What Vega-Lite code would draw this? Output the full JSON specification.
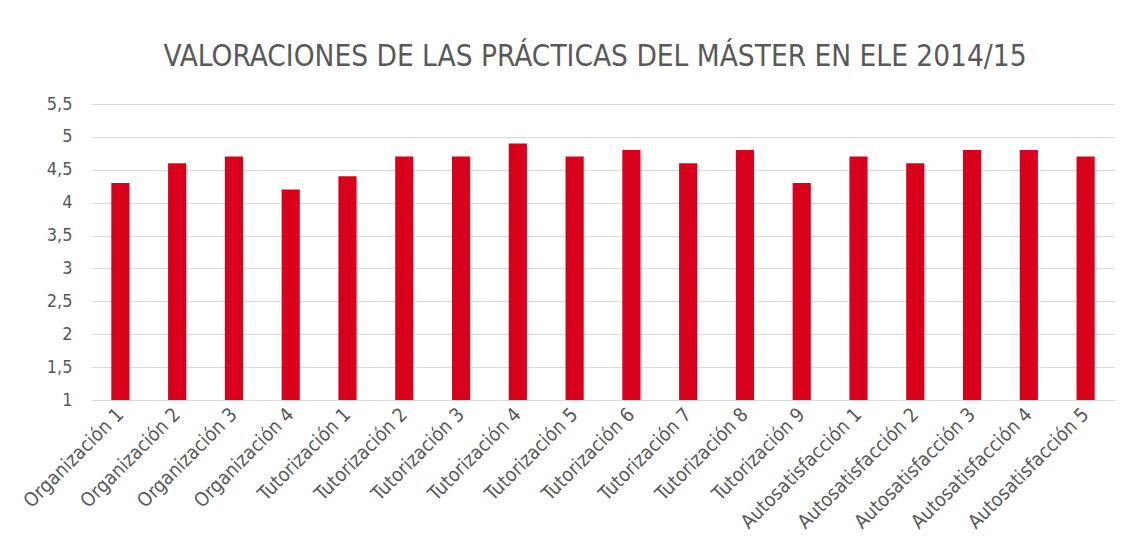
{
  "$schema": "https://vega.github.io/schema/vega-lite/v6.json",
  "autosize": "none",
  "width": 1022,
  "height": 296,
  "padding": {"left": 92, "top": 104, "right": 18, "bottom": 154},
  "background": "white",
  "title": {
    "text": "VALORACIONES DE LAS PRÁCTICAS DEL MÁSTER EN ELE 2014/15",
    "font": "DejaVu Sans Condensed",
    "fontSize": 29.5,
    "fontWeight": "normal",
    "color": "#595959",
    "anchor": "middle",
    "baseline": "alphabetic",
    "offset": 0,
    "dx": -8
  },
  "data": {
    "values": [
      {"item": "Organización 1", "valor": 4.3},
      {"item": "Organización 2", "valor": 4.6},
      {"item": "Organización 3", "valor": 4.7},
      {"item": "Organización 4", "valor": 4.2},
      {"item": "Tutorización 1", "valor": 4.4},
      {"item": "Tutorización 2", "valor": 4.7},
      {"item": "Tutorización 3", "valor": 4.7},
      {"item": "Tutorización 4", "valor": 4.9},
      {"item": "Tutorización 5", "valor": 4.7},
      {"item": "Tutorización 6", "valor": 4.8},
      {"item": "Tutorización 7", "valor": 4.6},
      {"item": "Tutorización 8", "valor": 4.8},
      {"item": "Tutorización 9", "valor": 4.3},
      {"item": "Autosatisfacción 1", "valor": 4.7},
      {"item": "Autosatisfacción 2", "valor": 4.6},
      {"item": "Autosatisfacción 3", "valor": 4.8},
      {"item": "Autosatisfacción 4", "valor": 4.8},
      {"item": "Autosatisfacción 5", "valor": 4.7}
    ]
  },
  "mark": {"type": "bar", "color": "#d9001b", "clip": true},
  "encoding": {
    "x": {
      "field": "item",
      "type": "nominal",
      "sort": null,
      "title": null,
      "scale": {"paddingInner": 0.68, "paddingOuter": 0.34},
      "axis": {
        "labelAngle": -45,
        "labelAlign": "right",
        "labelBaseline": "middle",
        "labelPadding": 11,
        "labelFont": "DejaVu Sans Condensed",
        "labelFontSize": 19.5,
        "labelColor": "#595959",
        "ticks": false,
        "domainColor": "#d9d9d9",
        "domainWidth": 1,
        "labelOverlap": false
      }
    },
    "y": {
      "field": "valor",
      "type": "quantitative",
      "title": null,
      "scale": {"domain": [1, 5.5], "nice": false, "zero": false},
      "axis": {
        "values": [1, 1.5, 2, 2.5, 3, 3.5, 4, 4.5, 5, 5.5],
        "labelExpr": "replace(format(datum.value, '~g'), '.', ',')",
        "labelFont": "DejaVu Sans Condensed",
        "labelFontSize": 18,
        "labelColor": "#595959",
        "labelPadding": 20,
        "ticks": false,
        "domain": false,
        "gridColor": "#d9d9d9",
        "gridWidth": 1
      }
    }
  },
  "config": {"view": {"stroke": null}}
}
